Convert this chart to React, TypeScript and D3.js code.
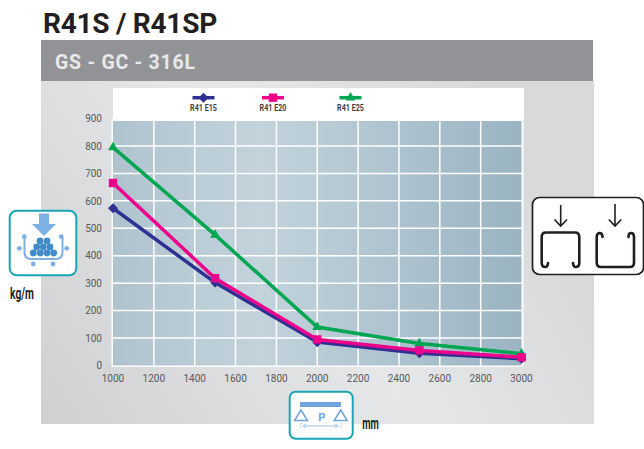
import React from "react";
import * as d3 from "d3";

const spans = [1000, 1500, 2000, 2500, 3000];
const e15 = [573, 302, 85, 45, 25];
const e20 = [665, 318, 95, 55, 30];
const e25 = [795, 476, 140, 80, 43];
const xTicks = [1000, 1200, 1400, 1600, 1800, 2000, 2200, 2400, 2600, 2800, 3000];
const yTicks = [0, 100, 200, 300, 400, 500, 600, 700, 800, 900];
const seriesNames = ["R41 E15", "R41 E20", "R41 E25"];
const seriesColors = ["#2e3192", "#ec008c", "#00a651"];
const legendX = [203.5, 273, 350.5];
const drawOrder = [0, 2, 1];
const seriesValues = [e15, e20, e25];
const symbols = [d3.symbolSquare, d3.symbolSquare, d3.symbolTriangle];
const symbolRotate = [45, 0, 0];
const symbolSizes = [50, 70, 42];

const FONT = "Roboto, 'Liberation Sans', sans-serif";

function Tray() {
  const dark = [[40, 241], [47, 241], [36.7, 247], [43.3, 247], [50, 247], [33.3, 253], [40.3, 253], [47, 253], [53.7, 253]];
  const light = [[24.3, 236.7], [61.3, 236.7], [19.3, 248.3], [66.7, 248.3], [33.3, 264], [53, 264]];
  return (
    <g>
      <rect x={9.7} y={210.7} width={66.6} height={64.6} rx={7} fill="#fff" stroke="#19a5b5" strokeWidth={2} />
      <path d="M39 213.5H49V224H56L44 236L32 224H39Z" fill="#7eb0e3" />
      <path d="M24.5 238V252Q24.5 259 31.5 259H55.5Q62.5 259 62.5 252V238" fill="none" stroke="#7eb0e3" strokeWidth={2} />
      {light.map(([x, y], i) => <circle key={i} cx={x} cy={y} r={2.4} fill="#7eb0e3" />)}
      {dark.map(([x, y], i) => <circle key={i} cx={x} cy={y} r={3.4} fill="#3f8cc8" />)}
    </g>
  );
}

function Span() {
  return (
    <g>
      <rect x={289.7} y={391.7} width={63} height={47} rx={6} fill="#fff" stroke="#19a5b5" strokeWidth={2} />
      <rect x={300} y={402} width={41} height={5} fill="#6fa5dc" />
      <path d="M301 410L294.5 420.5H307.5ZM340.7 410L334.2 420.5H347.2Z" fill="none" stroke="#6fa5dc" strokeWidth={1.5} />
      <text x={321.8} y={421} textAnchor="middle" fontFamily={FONT} fontWeight={700} fontSize={11} fill="#6fa5dc">P</text>
      <path d="M303 426H338M306 424L303 426L306 428M335 424L338 426L335 428" fill="none" stroke="#9cc3e8" strokeWidth={1} />
      <path d="M301 423V429M341 423V429" fill="none" stroke="#9cc3e8" strokeWidth={1} strokeDasharray="1.5 1.5" />
    </g>
  );
}

function Profiles() {
  return (
    <g fill="none" stroke="#231f20">
      <rect x={532.5} y={197.5} width={111} height={77} rx={7} fill="#fff" strokeWidth={1.7} />
      <path d="M560.7 205V226M554.5 219.5L560.7 226L567 219.5M615 204V226M608.8 219.5L615 226L621.3 219.5" strokeWidth={1.6} />
      <path d="M548 263Q547.5 267.5 545 267Q541.7 267 541.7 263V237Q541.7 232.5 546 232.5H575Q579.3 232.5 579.3 237V263Q579.3 267 576 267Q573.5 267.5 573 263" strokeWidth={2.6} strokeLinecap="round" />
      <path d="M602.5 237Q602.5 233 599.5 233Q596.7 233.5 596.7 237V262.5Q596.7 267 601 267H630Q634 267 634 262.5V237Q634 233 631 233Q628.5 233 628.5 237" strokeWidth={2.6} strokeLinecap="round" />
    </g>
  );
}

export default function App() {
  const x = d3.scaleLinear().domain([1000, 3000]).range([113, 521.5]);
  const y = d3.scaleLinear().domain([0, 900]).range([365.5, 118.5]);
  const line = d3.line<number>().x((_, i) => x(spans[i])).y((d) => y(d));

  return (
    <svg width={644} height={449} viewBox="0 0 644 449" style={{ position: "fixed", left: 0, top: 0 }}>
      <defs>
        <linearGradient id="panel" gradientUnits="userSpaceOnUse" x1={41} y1={424} x2={300} y2={250}>
          <stop offset="0" stopColor="#cfd0d2" />
          <stop offset="1" stopColor="#e6e7e8" />
        </linearGradient>
        <linearGradient id="panel2" gradientUnits="userSpaceOnUse" x1={400} y1={400} x2={594} y2={300}>
          <stop offset="0" stopColor="#d8d9db" stopOpacity={0} />
          <stop offset="1" stopColor="#d8d9db" stopOpacity={1} />
        </linearGradient>
        <linearGradient id="plot" gradientUnits="userSpaceOnUse" x1={113} y1={0} x2={521} y2={0}>
          <stop offset="0" stopColor="#afc3cf" />
          <stop offset="0.36" stopColor="#c3d3dc" />
          <stop offset="1" stopColor="#9ab4c2" />
        </linearGradient>
      </defs>
      <rect width={644} height={449} fill="#fff" />
      <text x={43} y={32.7} fontFamily={FONT} fontWeight={700} fontSize={28} letterSpacing={-0.25} fill="#231f20">R41S / R41SP</text>
      <rect x={41} y={81} width={553} height={343} fill="url(#panel)" />
      <rect x={41} y={81} width={553} height={343} fill="url(#panel2)" />
      <rect x={41} y={40} width={552} height={41} fill="#929396" />
      <text x={55} y={69.3} fontFamily={FONT} fontWeight={700} fontSize={19.5} letterSpacing={0.75} fill="#e9e9ea">GS - GC - 316L</text>

      <rect x={113} y={88} width={411} height={30} fill="#fff" />
      <rect x={111.5} y={118} width={412} height={249} fill="#fff" />
      <rect x={113} y={121} width={408.5} height={244.5} fill="url(#plot)" />
      {yTicks.slice(1, -1).map((t) => (
        <line key={t} x1={113} x2={521.5} y1={y(t)} y2={y(t)} stroke="#fff" strokeWidth={1.5} />
      ))}
      {xTicks.slice(1, -1).map((t) => (
        <line key={t} x1={x(t)} x2={x(t)} y1={121} y2={365.5} stroke="#fff" strokeWidth={1.5} />
      ))}

      {yTicks.map((t) => (
        <text key={t} x={102} y={y(t) + 3.7} textAnchor="end" fontFamily={FONT} fontSize={10} fill="#58595b">{t}</text>
      ))}
      {xTicks.map((t) => (
        <text key={t} x={x(t)} y={381.7} textAnchor="middle" fontFamily={FONT} fontSize={10} fill="#58595b">{t}</text>
      ))}

      {drawOrder.map((s) => (
        <g key={s}>
          <path d={line(seriesValues[s]) as string} fill="none" stroke={seriesColors[s]} strokeWidth={3.5} />
          {seriesValues[s].map((v, i) => (
            <path key={i} transform={`translate(${x(spans[i])},${y(v)}) rotate(${symbolRotate[s]})`} d={d3.symbol().type(symbols[s]).size(symbolSizes[s])() as string} fill={seriesColors[s]} />
          ))}
        </g>
      ))}

      {seriesNames.map((name, s) => (
        <g key={name}>
          <line x1={legendX[s] - 11} x2={legendX[s] + 11} y1={97.7} y2={97.7} stroke={seriesColors[s]} strokeWidth={3.5} />
          <path transform={`translate(${legendX[s]},97.7) rotate(${symbolRotate[s]})`} d={d3.symbol().type(symbols[s]).size(symbolSizes[s])() as string} fill={seriesColors[s]} />
          <text transform={`translate(${legendX[s]},111) scale(0.8,1)`} textAnchor="middle" fontFamily={FONT} fontWeight={700} fontSize={9} fill="#414042">{name}</text>
        </g>
      ))}

      <Tray />
      <text transform="translate(22,298.5) scale(0.64,1)" textAnchor="middle" fontFamily={FONT} fontWeight={700} fontSize={16} fill="#231f20">kg/m</text>
      <Span />
      <text transform="translate(370.5,429) scale(0.6,1)" textAnchor="middle" fontFamily={FONT} fontWeight={700} fontSize={16} fill="#231f20">mm</text>
      <Profiles />
    </svg>
  );
}
